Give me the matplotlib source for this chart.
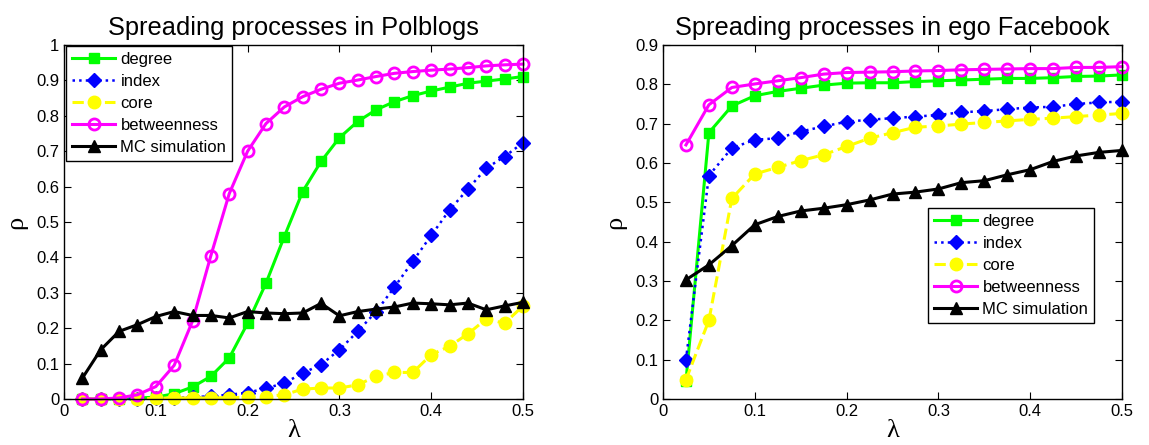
import matplotlib
matplotlib.use("Agg")
import matplotlib.pyplot as plt
import numpy as np

plt.rcParams['font.family'] = ['Liberation Sans', 'DejaVu Sans']

# Polblogs
lam_pol = [0.02, 0.04, 0.06, 0.08, 0.10, 0.12, 0.14, 0.16, 0.18, 0.20, 0.22, 0.24, 0.26,
           0.28, 0.30, 0.32, 0.34, 0.36, 0.38, 0.40, 0.42, 0.44, 0.46, 0.48, 0.50]
pol_degree = [0.0, 0.0, 0.001, 0.003, 0.005, 0.015, 0.034, 0.064, 0.116, 0.214, 0.327, 0.459, 0.586,
              0.671, 0.738, 0.784, 0.817, 0.84, 0.857, 0.87, 0.881, 0.892, 0.898, 0.904, 0.911]
pol_index = [0.0, 0.0, 0.0, 0.0, 0.002, 0.003, 0.005, 0.008, 0.012, 0.018, 0.03, 0.045, 0.073,
             0.097, 0.139, 0.191, 0.247, 0.316, 0.389, 0.462, 0.534, 0.593, 0.652, 0.685, 0.724]
pol_core = [0.0, 0.0, 0.0, 0.0, 0.002, 0.003, 0.003, 0.003, 0.004, 0.005, 0.007, 0.012, 0.028,
            0.031, 0.031, 0.04, 0.064, 0.075, 0.075, 0.125, 0.149, 0.184, 0.226, 0.214, 0.263]
pol_betw = [0.0, 0.0, 0.003, 0.012, 0.035, 0.095, 0.22, 0.405, 0.58, 0.70, 0.778, 0.825, 0.854,
            0.875, 0.892, 0.901, 0.911, 0.92, 0.925, 0.929, 0.932, 0.936, 0.941, 0.944, 0.946]
pol_mc = [0.059, 0.139, 0.191, 0.21, 0.233, 0.247, 0.236, 0.236, 0.229, 0.247, 0.243, 0.241, 0.243,
          0.27, 0.235, 0.247, 0.254, 0.26, 0.271, 0.269, 0.266, 0.271, 0.252, 0.263, 0.273]

# ego Facebook
lam_fb = [0.025, 0.05, 0.075, 0.1, 0.125, 0.15, 0.175, 0.2, 0.225, 0.25,
          0.275, 0.3, 0.325, 0.35, 0.375, 0.4, 0.425, 0.45, 0.475, 0.5]
fb_degree = [0.045, 0.677, 0.745, 0.771, 0.782, 0.79, 0.798, 0.803, 0.804, 0.804,
             0.807, 0.809, 0.811, 0.813, 0.815, 0.815, 0.817, 0.82, 0.821, 0.824]
fb_index = [0.1, 0.568, 0.638, 0.659, 0.663, 0.68, 0.693, 0.705, 0.71, 0.714,
            0.718, 0.722, 0.729, 0.732, 0.737, 0.741, 0.743, 0.75, 0.754, 0.756]
fb_core = [0.049, 0.2, 0.51, 0.572, 0.589, 0.606, 0.621, 0.642, 0.663, 0.677,
           0.691, 0.694, 0.699, 0.703, 0.707, 0.711, 0.714, 0.718, 0.722, 0.726]
fb_betw = [0.646, 0.748, 0.792, 0.801, 0.809, 0.817, 0.826, 0.83, 0.831, 0.832,
           0.834, 0.835, 0.837, 0.838, 0.839, 0.84, 0.84, 0.843, 0.843, 0.845]
fb_mc = [0.303, 0.341, 0.39, 0.443, 0.464, 0.478, 0.485, 0.494, 0.506, 0.521,
         0.526, 0.534, 0.55, 0.555, 0.57, 0.583, 0.604, 0.618, 0.627, 0.632]

labels = ['degree', 'index', 'core', 'betweenness', 'MC simulation']
titles = ['Spreading processes in Polblogs', 'Spreading processes in ego Facebook']

styles = [
    dict(color='#00ff00', ls='-', marker='s', ms=7, mfc='#00ff00', mec='#00ff00', lw=2.2),
    dict(color='#0000ff', ls=':', marker='D', ms=7, mfc='#0000ff', mec='#0000ff', lw=1.8),
    dict(color='#ffff00', ls='--', marker='o', ms=9, mfc='#ffff00', mec='#ffff00', lw=2.2),
    dict(color='#ff00ff', ls='-', marker='o', ms=8, mfc='none', mec='#ff00ff', mew=2, lw=2.2),
    dict(color='#000000', ls='-', marker='^', ms=9, mfc='#000000', mec='#000000', lw=2.2),
]

fig = plt.figure(figsize=(11.49, 4.45), dpi=100)
ax1 = fig.add_axes([64/1149, 46/445, 459/1149, 354/445])
ax2 = fig.add_axes([663/1149, 46/445, 459/1149, 354/445])

datasets = [
    (ax1, lam_pol, [pol_degree, pol_index, pol_core, pol_betw, pol_mc], 1.0),
    (ax2, lam_fb, [fb_degree, fb_index, fb_core, fb_betw, fb_mc], 0.9),
]

for i, (ax, lam, series, ymax) in enumerate(datasets):
    for ys, lab, st in zip(series, labels, styles):
        ax.plot(lam, ys, label=lab, **st, clip_on=False)
    ax.set_xlim(0, 0.5)
    ax.set_ylim(0, ymax)
    ax.set_xticks([0, 0.1, 0.2, 0.3, 0.4, 0.5])
    ax.set_xticklabels(['0', '0.1', '0.2', '0.3', '0.4', '0.5'])
    yt = np.round(np.arange(0, ymax + 0.001, 0.1), 1)
    ax.set_yticks(yt)
    ax.set_yticklabels(['0' if v == 0 else ('1' if v == 1 else f'{v:.1f}') for v in yt])
    ax.tick_params(direction='in', top=True, right=True, labelsize=12, length=5, width=0.8)
    for sp in ax.spines.values():
        sp.set_linewidth(1.0)
    ax.set_title(titles[i], fontsize=18.3, pad=7)
    ax.set_xlabel('λ', fontsize=19, labelpad=1, family=['Liberation Serif', 'DejaVu Serif'])
    ax.set_ylabel('ρ', fontsize=19, labelpad=6, family=['Liberation Serif', 'DejaVu Serif'])

leg_kw = dict(fontsize=12, frameon=True, fancybox=False, edgecolor='black',
              framealpha=1, borderpad=0.35, labelspacing=0.42, handlelength=2.6,
              handletextpad=0.3, borderaxespad=0.0)
l1 = ax1.legend(loc='upper left', bbox_to_anchor=(0.005, 0.997), **leg_kw)
l2 = ax2.legend(loc='lower left', bbox_to_anchor=(0.578, 0.215), **leg_kw)
for l in (l1, l2):
    l.get_frame().set_linewidth(1.0)

fig.savefig('out.png', dpi=100)
